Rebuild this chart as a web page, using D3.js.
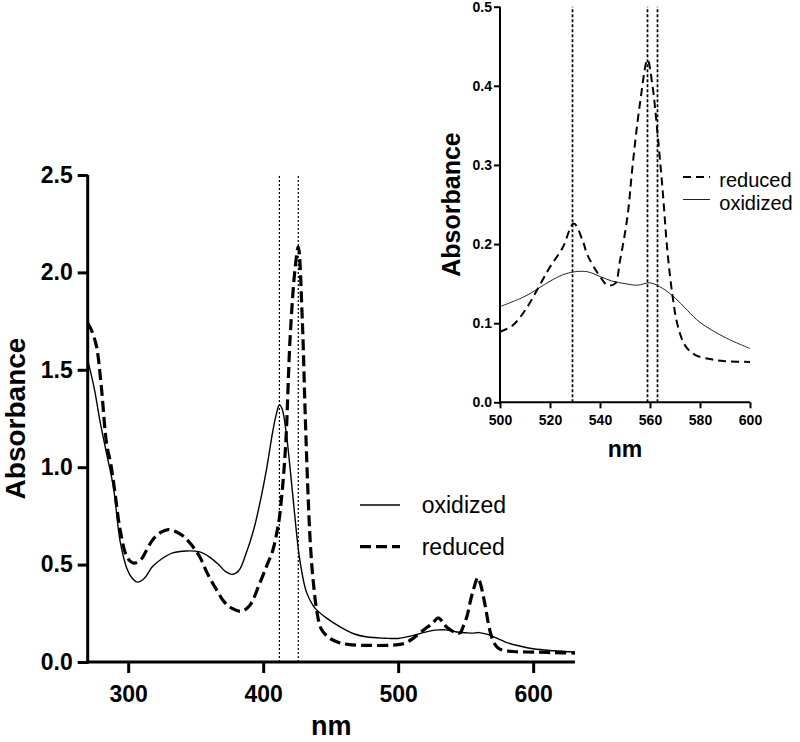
<!DOCTYPE html>
<html>
<head>
<meta charset="utf-8">
<script src="https://cdn.jsdelivr.net/npm/d3@7"></script>
<style>
  body { margin: 0; background: #fff; }
  svg { display: block; font-family: "Liberation Sans", Arial, sans-serif; }
</style>
</head>
<body>
<svg id="chart" width="800" height="742"></svg>
<script>
// ---------- data ----------
const oxidizedNm = [270,275,279,284,289,294,299,303,307,312,318,325,333,343,353,360,367,372,377,382,387,393,398,402.5,407,410,412,414,417,420,423,427,432,437,440,447,457,467,477,490,500,510,520,525,530,535,540,545,550,555,560,565,570,575,580,590,600,615,631];
const oxidizedAbs = [1.55,1.40,1.24,1.07,0.90,0.62,0.48,0.43,0.41,0.43,0.49,0.53,0.56,0.57,0.565,0.54,0.50,0.465,0.45,0.47,0.55,0.68,0.83,0.99,1.18,1.28,1.32,1.30,1.18,0.99,0.78,0.53,0.36,0.29,0.265,0.225,0.18,0.145,0.128,0.122,0.121,0.134,0.153,0.161,0.165,0.165,0.159,0.153,0.150,0.148,0.151,0.144,0.132,0.116,0.101,0.082,0.068,0.058,0.051];

const reducedNm = [270,273,276.5,280,284,287,290,294,299,303,306,310,314,318.5,324,329.6,335,341,347,353,359,365.5,371,377,384,390,397.5,403,407,410,412,415,417,420,423.5,426,429,431,433,435,437,440,443,449,456,464,480,494,500,505,510,515,520,525,529.5,533,535,540,543,546,548,551,553,556,559,561,563,565,567,569,571,574,578,585,590,600,615,631];
const reducedAbs = [1.74,1.70,1.62,1.42,1.12,1.02,0.88,0.68,0.54,0.51,0.51,0.53,0.58,0.63,0.665,0.68,0.67,0.645,0.60,0.54,0.45,0.37,0.31,0.275,0.26,0.29,0.405,0.50,0.57,0.66,0.74,0.95,1.16,1.67,2.01,2.13,1.75,1.30,0.90,0.60,0.42,0.25,0.17,0.123,0.10,0.089,0.085,0.086,0.089,0.097,0.116,0.143,0.171,0.195,0.226,0.205,0.186,0.159,0.148,0.150,0.179,0.235,0.298,0.378,0.433,0.40,0.34,0.27,0.19,0.135,0.098,0.072,0.060,0.054,0.052,0.051,0.048,0.046];

const mainMarkers = [412, 426];
const insetMarkers = [529, 559, 563];

const mainXTicks = [300, 400, 500, 600];
const mainYTicks = [0, 0.5, 1.0, 1.5, 2.0, 2.5];
const insetXTicks = [500, 520, 540, 560, 580, 600];
const insetYTicks = [0, 0.1, 0.2, 0.3, 0.4, 0.5];

const mainLegend = ["oxidized", "reduced"];
const insetLegend = ["reduced", "oxidized"];

// ---------- drawing ----------
const svg = d3.select("#chart");
const toPts = (nm, ab) => nm.map((v, i) => [v, ab[i]]);
const oxPts = toPts(oxidizedNm, oxidizedAbs);
const redPts = toPts(reducedNm, reducedAbs);

function drawPanel(cfg) {
  const g = svg.append("g");
  const x = d3.scaleLinear().domain(cfg.xDomain).range(cfg.xRange);
  const y = d3.scaleLinear().domain(cfg.yDomain).range(cfg.yRange);
  const clipId = "clip" + cfg.name;
  svg.append("clipPath").attr("id", clipId).append("rect")
    .attr("x", cfg.xRange[0]).attr("y", cfg.yRange[1] - 4)
    .attr("width", cfg.xRange[1] - cfg.xRange[0]).attr("height", cfg.yRange[0] - cfg.yRange[1] + 4);

  const line = d3.line().x(d => x(d[0])).y(d => y(d[1])).curve(d3.curveCatmullRom.alpha(0.5));

  // dotted markers
  g.selectAll(".mk").data(cfg.markers).join("line")
    .attr("x1", d => x(d)).attr("x2", d => x(d))
    .attr("y1", y(cfg.yDomain[0])).attr("y2", y(cfg.yDomain[1]))
    .attr("stroke", "#000").attr("stroke-width", cfg.markerW).attr("stroke-dasharray", cfg.markerDash);

  const pl = g.append("g").attr("clip-path", `url(#${clipId})`);
  const inRange = p => p[0] >= cfg.xDomain[0] && p[0] <= cfg.xDomain[1];
  pl.append("path").datum(oxPts.filter(inRange)).attr("d", line)
    .attr("fill", "none").attr("stroke", cfg.oxColor).attr("stroke-width", cfg.oxW);
  pl.append("path").datum(redPts.filter(inRange)).attr("d", line)
    .attr("fill", "none").attr("stroke", "#000").attr("stroke-width", cfg.redW)
    .attr("stroke-dasharray", cfg.redDash);

  // axes
  const ax = g.append("g").attr("transform", `translate(0,${cfg.yRange[0]})`)
    .call(d3.axisBottom(x).tickValues(cfg.xTicks).tickSize(cfg.xTickLen).tickSizeOuter(0).tickPadding(cfg.xPad).tickFormat(d3.format("d")));
  const ay = g.append("g").attr("transform", `translate(${cfg.xRange[0]},0)`)
    .call(d3.axisLeft(y).tickValues(cfg.yTicks).tickSize(cfg.yTickLen).tickSizeOuter(0).tickPadding(cfg.yPad).tickFormat(d3.format(".1f")));
  [ax, ay].forEach(a => {
    a.selectAll("path,line").attr("stroke", "#000").attr("stroke-width", cfg.axisW);
    a.selectAll("text").attr("fill", "#000").attr("font-size", cfg.tickFont).attr("font-weight", "bold")
      .attr("font-family", "Liberation Sans, Arial, sans-serif");
  });
  ax.select(".domain").attr("d", `M${cfg.xRange[0] - cfg.axisW / 2},0H${cfg.xRange[1]}`);
  ay.select(".domain").attr("d", `M0,${cfg.yRange[1]}V${cfg.yRange[0] + cfg.axisW / 2}`);

  // titles
  g.append("text").attr("x", (cfg.xRange[0] + cfg.xRange[1]) / 2).attr("y", cfg.nmY)
    .attr("text-anchor", "middle").attr("font-weight", "bold").attr("font-size", cfg.nmFont).text("nm");
  g.append("text").attr("transform", `translate(${cfg.absX},${(cfg.yRange[0] + cfg.yRange[1]) / 2}) rotate(-90)`)
    .attr("text-anchor", "middle").attr("dominant-baseline", "central")
    .attr("font-weight", "bold").attr("font-size", cfg.absFont).text("Absorbance");

  // legend
  const lg = g.append("g");
  cfg.legend.forEach((name, i) => {
    const ly = cfg.legY + i * cfg.legStep;
    const isRed = name === "reduced";
    lg.append("line").attr("x1", cfg.legX1).attr("x2", cfg.legX2).attr("y1", ly).attr("y2", ly)
      .attr("stroke", isRed ? "#000" : cfg.oxColor).attr("stroke-width", isRed ? cfg.redW : cfg.oxW)
      .attr("stroke-dasharray", isRed ? cfg.redDash : null);
    lg.append("text").attr("x", cfg.legTX).attr("y", ly + cfg.legTextDy)
      .attr("font-size", cfg.legFont).attr("fill", "#000").text(name);
  });
}

drawPanel({
  name: "main", xDomain: [270, 631], xRange: [87.7, 575], yDomain: [0, 2.5], yRange: [662, 175],
  markers: mainMarkers, markerW: 1.2, markerDash: "2,2",
  oxColor: "#000", oxW: 1.4, redW: 3.2, redDash: "11,5",
  xTicks: mainXTicks, yTicks: mainYTicks, xTickLen: 11, yTickLen: 10, xPad: 13, yPad: 5,
  axisW: 3, tickFont: "23px", nmY: 735, nmFont: "27px", absX: 15, absFont: "28px",
  legend: mainLegend, legY: 505, legStep: 41.7, legX1: 360, legX2: 400, legTX: 421.7, legTextDy: 8, legFont: "23px"
});

drawPanel({
  name: "inset", xDomain: [500, 600], xRange: [500, 750], yDomain: [0, 0.5], yRange: [402.3, 6.7],
  markers: insetMarkers, markerW: 1.7, markerDash: "3,2",
  oxColor: "#222", oxW: 1, redW: 2, redDash: "8,5",
  xTicks: insetXTicks, yTicks: insetYTicks, xTickLen: 6, yTickLen: 6, xPad: 7, yPad: 2,
  axisW: 2, tickFont: "14px", nmY: 457, nmFont: "23px", absX: 451, absFont: "25px",
  legend: insetLegend, legY: 177, legStep: 22.5, legX1: 683, legX2: 710, legTX: 719.3, legTextDy: 10, legFont: "20px"
});
</script>
</body>
</html>
